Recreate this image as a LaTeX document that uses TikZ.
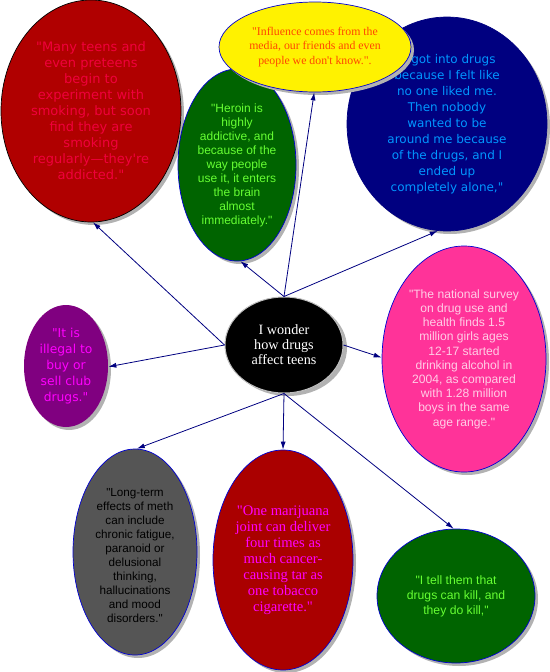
\documentclass[tikz,border=0pt]{standalone}
\usepackage{fontspec}
\usetikzlibrary{shapes.geometric,arrows.meta}
\newfontfamily\verd{DejaVu Sans}
\newfontfamily\ari{Liberation Sans}
\newfontfamily\tms{Liberation Serif}
\definecolor{arrowblue}{RGB}{0,0,128}
\definecolor{edgeblue}{RGB}{0,0,210}
\definecolor{redA}{RGB}{176,0,0}
\definecolor{redAtxt}{RGB}{240,0,60}
\definecolor{grnfill}{RGB}{0,100,0}
\definecolor{grntxt}{RGB}{102,255,51}
\definecolor{yeltxt}{RGB}{255,70,0}
\definecolor{navyfill}{RGB}{0,0,128}
\definecolor{navytxt}{RGB}{0,150,255}
\definecolor{purpfill}{RGB}{128,0,128}
\definecolor{magtxt}{RGB}{255,0,255}
\definecolor{pinkfill}{RGB}{255,51,153}
\definecolor{pinktxt}{RGB}{255,205,230}
\definecolor{grayfill}{RGB}{85,85,85}
\definecolor{redB}{RGB}{170,0,0}
\tikzset{
  ell/.style={ellipse, inner sep=0pt, draw=edgeblue, line width=0.7pt},
  shad/.style={ellipse, inner sep=0pt, fill=black!30, draw=none},
  txt/.style={align=center, inner sep=0pt},
  conn/.style={draw=arrowblue, line width=0.8pt, -{Latex[length=8pt,width=5pt]}},
}
\begin{document}
\begin{tikzpicture}[x=1pt,y=-1pt]
\useasboundingbox (0,0) rectangle (549,672);
% shadows
\foreach \cx/\cy/\w/\h in {91/111/180/222, 237/165/118/192, 447/124/200/214, 66/366/84/122, 285/345/118/96, 464/359/164/226, 135/552/124/206, 283/560/140/220, 456/596/158/134}
  \node[shad, minimum width=\w, minimum height=\h] (s\cx) at (\cx+3,\cy+3) {};
% red top-left
\node[ell, draw=black, fill=redA, minimum width=180, minimum height=222] (red) at (91,111) {};
\node[txt, text=redAtxt, font=\verd\fontsize{13}{16}\selectfont] (redt) at (red.center)
  {"Many teens and\\even preteens\\begin to\\experiment with\\smoking, but soon\\find they are\\smoking\\regularly—they're\\addicted."};
% heroin
\node[ell, fill=grnfill, minimum width=118, minimum height=192] (heroin) at (237,165) {};
\node[txt, text=grntxt, font=\ari\fontsize{12}{14}\selectfont] (heroint) at (heroin.center)
  {"Heroin is\\highly\\addictive, and\\because of the\\way people\\use it, it enters\\the brain\\almost\\immediately."};
% navy
\node[ell, draw=navyfill, fill=navyfill, minimum width=200, minimum height=214] (navy) at (447,124) {};
\node[txt, text=navytxt, font=\verd\fontsize{12}{16}\selectfont] (navyt) at (navy.center)
  {"I got into drugs\\because I felt like\\no one liked me.\\Then nobody\\wanted to be\\around me because\\of the drugs, and I\\ended up\\completely alone,"};
% yellow
\node[shad, minimum width=192, minimum height=90] (ysh) at (318,50) {};
\node[ell, fill=yellow, minimum width=192, minimum height=90] (yel) at (315,47) {};
\node[txt, text=yeltxt, font=\tms\fontsize{11.8}{14.5}\selectfont] (yelt) at (yel.center)
  {"Influence comes from the\\media, our friends and even\\people we don't know.".};
% purple
\node[ell, draw=none, fill=purpfill, minimum width=84, minimum height=122] (purp) at (66,366) {};
\node[txt, text=magtxt, font=\verd\fontsize{12.3}{16}\selectfont] (purpt) at (purp.center)
  {"It is\\illegal to\\buy or\\sell club\\drugs."};
% center
\node[ell, draw=black!25, line width=1pt, fill=black, minimum width=118, minimum height=96] (c) at (284,345) {};
\node[txt, text=white, font=\tms\fontsize{14.2}{15}\selectfont] (ct) at (c.center)
  {I wonder\\how drugs\\affect teens};
% pink
\node[ell, fill=pinkfill, minimum width=164, minimum height=226] (pink) at (464,359) {};
\node[txt, text=pinktxt, font=\ari\fontsize{12.1}{14.2}\selectfont] (pinkt) at (pink.center)
  {"The national survey\\on drug use and\\health finds 1.5\\million girls ages\\12-17 started\\drinking alcohol in\\2004, as compared\\with 1.28 million\\boys in the same\\age range."};
% gray
\node[ell, fill=grayfill, minimum width=124, minimum height=206] (gray) at (135,552) {};
\node[txt, text=black, font=\ari\fontsize{11.7}{14}\selectfont] (grayt) at (135,556)
  {"Long-term\\effects of meth\\can include\\chronic fatigue,\\paranoid or\\delusional\\thinking,\\hallucinations\\and mood\\disorders."};
% marijuana
\node[ell, fill=redB, minimum width=140, minimum height=220] (mari) at (283,560) {};
\node[txt, text=magtxt, font=\tms\fontsize{14.6}{16}\selectfont] (marit) at (mari.center)
  {"One marijuana\\joint can deliver\\four times as\\much cancer-\\causing tar as\\one tobacco\\cigarette."};
% green bottom right
\node[ell, fill=grnfill, minimum width=158, minimum height=134] (kill) at (456,596) {};
\node[txt, text=grntxt, font=\ari\fontsize{12.2}{15}\selectfont] (killt) at (kill.center)
  {"I tell them that\\drugs can kill, and\\they do kill,"};
% connectors
\draw[conn] (c.west) -- (red.-89);
\draw[conn] (c.west) -- (purp.-1);
\draw[conn] (c.north) -- (heroin.-88);
\draw[conn] (c.north) -- (yel.-91);
\draw[conn] (c.north) -- (navy.-95);
\draw[conn] (c.east) -- (pink.179);
\draw[conn] (c.south) -- (gray.89);
\draw[conn] (c.south) -- (mari.90);
\draw[conn] (c.south) -- (kill.92);
\end{tikzpicture}
\end{document}
